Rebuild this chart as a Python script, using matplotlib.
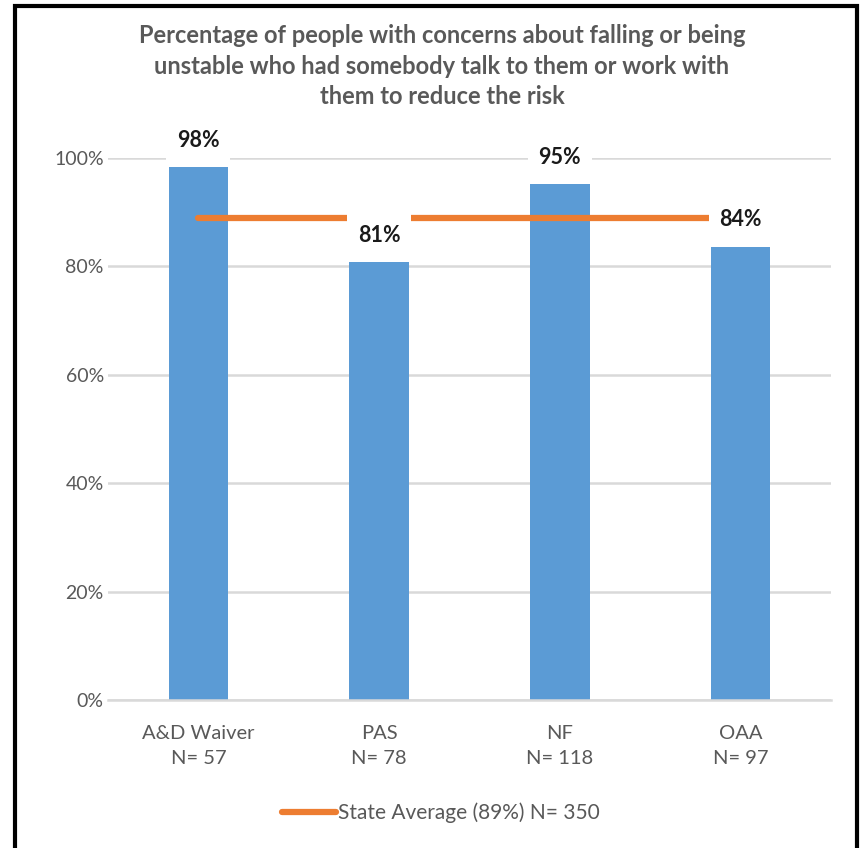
import matplotlib
matplotlib.use("Agg")
import matplotlib.pyplot as plt
from matplotlib.patches import Rectangle
from matplotlib.lines import Line2D

# data
categories = ["A&D Waiver\nN= 57", "PAS\nN= 78", "NF\nN= 118", "OAA\nN= 97"]
values = [98.3, 80.8, 95.2, 83.6]
labels = ["98%", "81%", "95%", "84%"]
state_avg = 88.9
legend_label = "State Average (89%) N= 350"
title = ("Percentage of people with concerns about falling or being\n"
         "unstable who had somebody talk to them or work with\n"
         "them to reduce the risk")
yticks = [0, 20, 40, 60, 80, 100]

BLUE = "#5B9BD5"
ORANGE = "#ED7D31"
GREY = "#595959"
GRID = "#D9D9D9"

plt.rcParams["font.family"] = ["Lato", "DejaVu Sans"]

W, H = 861, 848
fig = plt.figure(figsize=(W / 100, H / 100), dpi=100)
ax = fig.add_axes([108 / W, 1 - 700 / H, (831 - 108) / W, (700 - 158) / H])

x = range(len(categories))
ax.bar(x, values, width=0.33, color=BLUE, zorder=2)
ax.plot([0, len(categories) - 1], [state_avg, state_avg], color=ORANGE,
        lw=4.5, solid_capstyle="round", zorder=3)

# value labels on white boxes (they mask grid and average line)
for i, (v, lab) in enumerate(zip(values, labels)):
    ax.annotate(lab, (i, v), xytext=(0, 27), textcoords="offset pixels",
                ha="center", va="center", fontsize=15.5, fontweight="bold",
                color="#1a1a1a", zorder=5, annotation_clip=False,
                bbox=dict(boxstyle="square,pad=0.5", fc="white", ec="none"))

ax.set_xlim(-0.5, len(categories) - 0.5)
ax.set_ylim(0, 100)
ax.set_yticks(yticks)
ax.set_yticklabels([f"{t}%" for t in yticks], color=GREY, fontsize=14)
ax.set_xticks(list(x))
ax.set_xticklabels(categories, color=GREY, fontsize=14.5, linespacing=1.6)
ax.tick_params(length=0)
ax.tick_params(axis="x", pad=18)
ax.tick_params(axis="y", pad=3)
ax.grid(axis="y", color=GRID, lw=1.8, zorder=0)
ax.set_axisbelow(True)
for s in ["top", "right", "left"]:
    ax.spines[s].set_visible(False)
ax.spines["bottom"].set_color(GRID)
ax.spines["bottom"].set_linewidth(1.8)

fig.text(442 / W, 1 - 66 / H, title, ha="center", va="center",
         fontsize=17, fontweight="bold", color=GREY, linespacing=1.4)

handle = Line2D([], [], color=ORANGE, lw=4.5, solid_capstyle="round")
fig.legend([handle], [legend_label], loc="center", bbox_to_anchor=(441 / W, 1 - 813 / H),
           frameon=False, fontsize=15, labelcolor=GREY, handlelength=2.6,
           handletextpad=0.1)

fig.patches.append(Rectangle((14.5 / W, -0.01), (857 - 14.5) / W, 1 - 5.5 / H + 0.01,
                             transform=fig.transFigure, fill=False, ec="black",
                             lw=3, zorder=10))

fig.savefig("out.png", dpi=100, facecolor="white")
